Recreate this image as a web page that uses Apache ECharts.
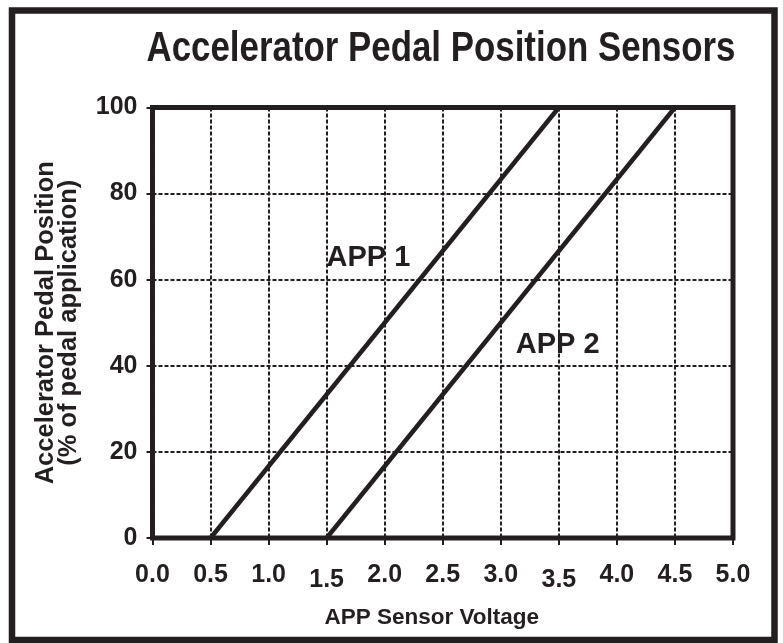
<!DOCTYPE html>
<html>
<head>
<meta charset="utf-8">
<script src="https://cdn.jsdelivr.net/npm/echarts@6/dist/echarts.min.js"></script>
<style>
html,body{margin:0;padding:0;background:#fff;}
#chart{width:783px;height:643px;}
</style>
</head>
<body>
<div id="chart"></div>
<script>
// ---- data ----
const chartTitle = 'Accelerator Pedal Position Sensors';
const xAxisTitle = 'APP Sensor Voltage';
const yAxisTitle = 'Accelerator Pedal Position\n(% of pedal application)';
const seriesNames = ['APP 1', 'APP 2'];
const app1Voltage = [0.5, 3.5];
const app1Position = [0, 100];
const app2Voltage = [1.5, 4.5];
const app2Position = [0, 100];
const xTickLabels = ['0.0','0.5','1.0','1.5','2.0','2.5','3.0','3.5','4.0','4.5','5.0'];
const xLoweredLabels = ['1.5', '3.5'];
const yTickLabels = ['0','20','40','60','80','100'];
const labelAnchors = [[1.86, 65], [3.49, 44.9]];

const INK = '#231f20';
const FONT = '"Liberation Sans", Arial, Helvetica, sans-serif';

function pairs(xs, ys) { return xs.map((x, i) => [x, ys[i]]); }

const chart = echarts.init(document.getElementById('chart'), null, {renderer: 'canvas'});

const seriesData = [pairs(app1Voltage, app1Position), pairs(app2Voltage, app2Position)];

const option = {
  animation: false,
  backgroundColor: '#ffffff',
  grid: {
    left: 152.5, right: 50, top: 107.5, bottom: 105,
    show: true, borderColor: INK, borderWidth: 5, backgroundColor: 'transparent'
  },
  xAxis: {
    type: 'value', min: 0, max: 5, interval: 0.5,
    axisLine: {show: false},
    axisTick: {show: true, inside: false, length: 7, lineStyle: {color: INK, width: 2}},
    splitLine: {show: true, lineStyle: {color: INK, width: 2, type: [4, 2]}},
    axisLabel: {
      margin: 25, color: INK, fontFamily: FONT, fontWeight: 'bold', fontSize: 25,
      formatter: function (v) {
        const idx = Math.round(v / 0.5);
        const t = xTickLabels[idx];
        return xLoweredLabels.indexOf(t) >= 0 ? '{low|' + t + '}' : t;
      },
      rich: {low: {padding: [5, 0, 0, 0], color: INK, fontFamily: FONT, fontWeight: 'bold', fontSize: 25}}
    },
    name: xAxisTitle, nameLocation: 'middle', nameGap: 68,
    nameTextStyle: {color: INK, fontFamily: FONT, fontWeight: 'bold', fontSize: 22.5, padding: [0, 22, 0, 0]}
  },
  yAxis: {
    type: 'value', min: 0, max: 100, interval: 20,
    axisLine: {show: false},
    axisTick: {show: true, inside: false, length: 6, lineStyle: {color: INK, width: 2}},
    splitLine: {show: true, lineStyle: {color: INK, width: 2, type: [4, 2]}},
    axisLabel: {
      margin: 15, color: INK, fontFamily: FONT, fontWeight: 'bold', fontSize: 25,
      formatter: function (v) { return yTickLabels[Math.round(v / 20)]; }
    },
    name: yAxisTitle, nameLocation: 'middle', nameGap: 72, nameRotate: 90,
    nameTextStyle: {color: INK, fontFamily: FONT, fontWeight: 'bold', fontSize: 25.5, lineHeight: 23, align: 'center'}
  },
  series: seriesNames.map((nm, i) => ({
    name: nm, type: 'line', data: seriesData[i], showSymbol: false, symbol: 'none',
    lineStyle: {color: INK, width: 4.5, cap: 'butt'},
    z: 5,
    markPoint: {
      symbol: 'circle', symbolSize: 0, silent: true,
      label: {show: true, position: 'inside', formatter: nm, color: INK, fontFamily: FONT, fontWeight: 'bold', fontSize: 29},
      data: [{coord: labelAnchors[i]}]
    }
  })),
  graphic: [
    {
      type: 'rect', silent: true, z: 10,
      shape: {x: 12, y: 10.5, width: 762.5, height: 629.5},
      style: {fill: 'none', stroke: INK, lineWidth: 6.5}
    },
    {
      type: 'text', silent: true, z: 10, x: 441, y: 49, scaleX: 0.83,
      style: {text: chartTitle, fill: INK, font: 'bold 42px ' + FONT, textAlign: 'center', textVerticalAlign: 'middle'}
    }
  ]
};
chart.setOption(option);
</script>
</body>
</html>
